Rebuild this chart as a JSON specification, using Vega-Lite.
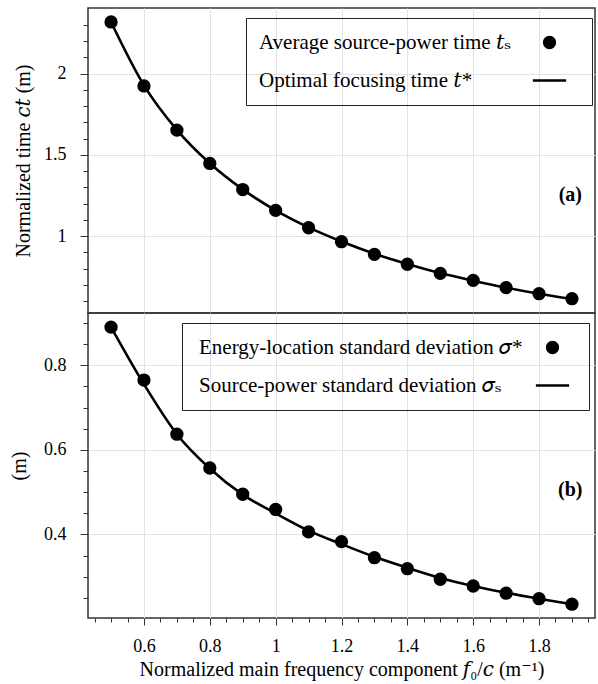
{
  "$schema": "https://vega.github.io/schema/vega-lite/v6.json",
  "background": "white",
  "padding": {"left": 8, "top": 7, "right": 3, "bottom": 5},
  "config": {
    "font": "'Liberation Serif', 'DejaVu Serif', serif",
    "view": {"stroke": "#333", "strokeWidth": 1.5},
    "axis": {
      "domain": false,
      "gridColor": "#e3e3e3",
      "gridWidth": 1,
      "tickColor": "#333",
      "tickWidth": 1,
      "tickCount": 1000,
      "labelColor": "black",
      "titleColor": "black",
      "labelFont": "'Liberation Serif', 'DejaVu Serif', serif",
      "titleFont": "'Liberation Serif', 'DejaVu Serif', serif",
      "labelFontSize": 18,
      "titleFontSize": 20,
      "titleFontWeight": "normal",
      "labelOverlap": false,
      "labelBound": false,
      "labelFlush": false
    },
    "legend": {
      "labelFont": "'Liberation Serif', 'DejaVu Serif', serif", "labelFontSize": 21, "labelColor": "black",
      "strokeColor": "#222", "padding": 14, "rowPadding": 16, "labelLimit": 0,
      "symbolSize": 177, "symbolFillColor": "black", "symbolStrokeWidth": 0
    }
  },
  "datasets": {
    "top": [
      {"f": 0.5, "v": 2.318, "s": "pts"}, {"f": 0.6, "v": 1.924, "s": "pts"}, {"f": 0.7, "v": 1.652, "s": "pts"},
      {"f": 0.8, "v": 1.447, "s": "pts"}, {"f": 0.9, "v": 1.286, "s": "pts"}, {"f": 1.0, "v": 1.158, "s": "pts"},
      {"f": 1.1, "v": 1.051, "s": "pts"}, {"f": 1.2, "v": 0.965, "s": "pts"}, {"f": 1.3, "v": 0.887, "s": "pts"},
      {"f": 1.4, "v": 0.826, "s": "pts"}, {"f": 1.5, "v": 0.770, "s": "pts"}, {"f": 1.6, "v": 0.727, "s": "pts"},
      {"f": 1.7, "v": 0.682, "s": "pts"}, {"f": 1.8, "v": 0.645, "s": "pts"}, {"f": 1.9, "v": 0.614, "s": "pts"},
      {"f": 0.5, "v": 2.318, "s": "line"}, {"f": 0.6, "v": 1.928, "s": "line"}, {"f": 0.7, "v": 1.654, "s": "line"},
      {"f": 0.8, "v": 1.448, "s": "line"}, {"f": 0.9, "v": 1.287, "s": "line"}, {"f": 1.0, "v": 1.158, "s": "line"},
      {"f": 1.1, "v": 1.053, "s": "line"}, {"f": 1.2, "v": 0.966, "s": "line"}, {"f": 1.3, "v": 0.891, "s": "line"},
      {"f": 1.4, "v": 0.828, "s": "line"}, {"f": 1.5, "v": 0.772, "s": "line"}, {"f": 1.6, "v": 0.725, "s": "line"},
      {"f": 1.7, "v": 0.682, "s": "line"}, {"f": 1.8, "v": 0.644, "s": "line"}, {"f": 1.9, "v": 0.612, "s": "line"}
    ],
    "bottom": [
      {"f": 0.5, "v": 0.890, "s": "pts"}, {"f": 0.6, "v": 0.765, "s": "pts"}, {"f": 0.7, "v": 0.637, "s": "pts"},
      {"f": 0.8, "v": 0.557, "s": "pts"}, {"f": 0.9, "v": 0.495, "s": "pts"}, {"f": 1.0, "v": 0.459, "s": "pts"},
      {"f": 1.1, "v": 0.406, "s": "pts"}, {"f": 1.2, "v": 0.383, "s": "pts"}, {"f": 1.3, "v": 0.345, "s": "pts"},
      {"f": 1.4, "v": 0.319, "s": "pts"}, {"f": 1.5, "v": 0.294, "s": "pts"}, {"f": 1.6, "v": 0.278, "s": "pts"},
      {"f": 1.7, "v": 0.261, "s": "pts"}, {"f": 1.8, "v": 0.248, "s": "pts"}, {"f": 1.9, "v": 0.235, "s": "pts"},
      {"f": 0.5, "v": 0.890, "s": "line"}, {"f": 0.6, "v": 0.755, "s": "line"}, {"f": 0.7, "v": 0.637, "s": "line"},
      {"f": 0.8, "v": 0.556, "s": "line"}, {"f": 0.9, "v": 0.494, "s": "line"}, {"f": 1.0, "v": 0.450, "s": "line"},
      {"f": 1.1, "v": 0.409, "s": "line"}, {"f": 1.2, "v": 0.377, "s": "line"}, {"f": 1.3, "v": 0.347, "s": "line"},
      {"f": 1.4, "v": 0.321, "s": "line"}, {"f": 1.5, "v": 0.297, "s": "line"}, {"f": 1.6, "v": 0.278, "s": "line"},
      {"f": 1.7, "v": 0.262, "s": "line"}, {"f": 1.8, "v": 0.248, "s": "line"}, {"f": 1.9, "v": 0.235, "s": "line"}
    ],
    "labA": [{"lab": "(a)"}],
    "labB": [{"lab": "(b)"}]
  },
  "spacing": 0,
  "bounds": "flush",
  "resolve": {"scale": {"shape": "independent", "x": "independent", "y": "independent"}, "legend": {"shape": "independent"}},
  "vconcat": [
    {
      "width": 507,
      "height": 305,
      "layer": [
        {
          "data": {"name": "top"},
          "transform": [{"filter": "datum.s === 'line'"}],
          "mark": {"type": "line", "color": "black", "strokeWidth": 2.6, "interpolate": "monotone"},
          "encoding": {
            "x": {"field": "f", "type": "quantitative",
              "scale": {"domain": [0.43, 1.97], "nice": false, "zero": false},
              "axis": {"title": null, "labels": false, "ticks": false, "grid": true, "minExtent": 0, "maxExtent": 0,
                "values": [0.6, 0.8, 1.0, 1.2, 1.4, 1.6, 1.8]}},
            "y": {"field": "v", "type": "quantitative",
              "scale": {"domain": [0.526, 2.404], "nice": false, "zero": false},
              "axis": {
                "title": "Normalized time 𝑐𝑡 (m)",
                "titlePadding": 10,
                "values": [0.6, 0.7, 0.8, 0.9, 1.0, 1.1, 1.2, 1.3, 1.4, 1.5, 1.6, 1.7, 1.8, 1.9, 2.0, 2.1, 2.2, 2.3],
                "labelExpr": "abs(datum.value*2 - round(datum.value*2)) < 0.001 ? format(datum.value, '~g') : ''",
                "tickSize": {"condition": {"test": "abs(datum.value*2 - round(datum.value*2)) < 0.001", "value": 8}, "value": 5},
                "gridOpacity": {"condition": {"test": "abs(datum.value*2 - round(datum.value*2)) < 0.001", "value": 1}, "value": 0},
                "labelPadding": 14
              }}
          }
        },
        {
          "data": {"name": "top"},
          "transform": [{"filter": "datum.s === 'pts'"}],
          "mark": {"type": "point", "filled": true, "size": 177, "color": "black", "opacity": 1},
          "encoding": {
            "x": {"field": "f", "type": "quantitative"},
            "y": {"field": "v", "type": "quantitative"},
            "shape": {"field": "s", "type": "nominal",
              "scale": {"domain": ["pts", "line"], "range": ["circle", "M-2.5,-0.19H2.5V0.19H-2.5ZM4.2,0L4.2,0"]},
              "legend": {
                "title": null, "orient": "none", "legendX": 158, "legendY": 10,
                "labelExpr": "datum.value === 'pts' ? 'Average source-power time 𝑡ₛ' : 'Optimal focusing time 𝑡*'",
                "symbolOffset": 279, "labelOffset": -301
              }}
          }
        },
        {
          "data": {"name": "labA"},
          "mark": {"type": "text", "fontWeight": "bold", "fontSize": 20, "color": "black", "font": "Liberation Serif"},
          "encoding": {
            "x": {"datum": 1.895, "type": "quantitative"},
            "y": {"datum": 1.25, "type": "quantitative"},
            "text": {"field": "lab"}
          }
        }
      ]
    },
    {
      "width": 507,
      "height": 305,
      "layer": [
        {
          "data": {"name": "bottom"},
          "transform": [{"filter": "datum.s === 'line'"}],
          "mark": {"type": "line", "color": "black", "strokeWidth": 2.6, "interpolate": "monotone"},
          "encoding": {
            "x": {"field": "f", "type": "quantitative",
              "scale": {"domain": [0.43, 1.97], "nice": false, "zero": false},
              "axis": {
                "title": "Normalized main frequency component 𝑓₀/𝑐 (m⁻¹)",
                "titlePadding": 4,
                "values": [0.45, 0.5, 0.55, 0.6, 0.65, 0.7, 0.75, 0.8, 0.85, 0.9, 0.95, 1.0, 1.05, 1.1, 1.15, 1.2, 1.25, 1.3, 1.35, 1.4, 1.45, 1.5, 1.55, 1.6, 1.65, 1.7, 1.75, 1.8, 1.85, 1.9, 1.95],
                "labelExpr": "abs(datum.value*5 - round(datum.value*5)) < 0.001 ? format(datum.value, '~g') : ''",
                "tickSize": {"condition": {"test": "abs(datum.value*5 - round(datum.value*5)) < 0.001", "value": 7}, "value": 4},
                "gridOpacity": {"condition": {"test": "abs(datum.value*5 - round(datum.value*5)) < 0.001", "value": 1}, "value": 0},
                "labelPadding": 12
              }},
            "y": {"field": "v", "type": "quantitative",
              "scale": {"domain": [0.2024, 0.9235], "nice": false, "zero": false},
              "axis": {
                "title": "(m)",
                "titlePadding": 14,
                "values": [0.25, 0.3, 0.35, 0.4, 0.45, 0.5, 0.55, 0.6, 0.65, 0.7, 0.75, 0.8, 0.85, 0.9],
                "labelExpr": "abs(datum.value*5 - round(datum.value*5)) < 0.001 ? format(datum.value, '~g') : ''",
                "tickSize": {"condition": {"test": "abs(datum.value*5 - round(datum.value*5)) < 0.001", "value": 8}, "value": 5},
                "gridOpacity": {"condition": {"test": "abs(datum.value*5 - round(datum.value*5)) < 0.001", "value": 1}, "value": 0},
                "labelPadding": 14
              }}
          }
        },
        {
          "data": {"name": "bottom"},
          "transform": [{"filter": "datum.s === 'pts'"}],
          "mark": {"type": "point", "filled": true, "size": 177, "color": "black", "opacity": 1},
          "encoding": {
            "x": {"field": "f", "type": "quantitative"},
            "y": {"field": "v", "type": "quantitative"},
            "shape": {"field": "s", "type": "nominal",
              "scale": {"domain": ["pts", "line"], "range": ["circle", "M-2.5,-0.19H2.5V0.19H-2.5ZM3.3,0L3.3,0"]},
              "legend": {
                "title": null, "orient": "none", "legendX": 94, "legendY": 10,
                "labelExpr": "datum.value === 'pts' ? 'Energy-location standard deviation 𝜎*' : 'Source-power standard deviation 𝜎ₛ'",
                "symbolOffset": 346, "labelOffset": -364
              }}
          }
        },
        {
          "data": {"name": "labB"},
          "mark": {"type": "text", "fontWeight": "bold", "fontSize": 20, "color": "black", "font": "Liberation Serif"},
          "encoding": {
            "x": {"datum": 1.895, "type": "quantitative"},
            "y": {"datum": 0.506, "type": "quantitative"},
            "text": {"field": "lab"}
          }
        }
      ]
    }
  ]
}
